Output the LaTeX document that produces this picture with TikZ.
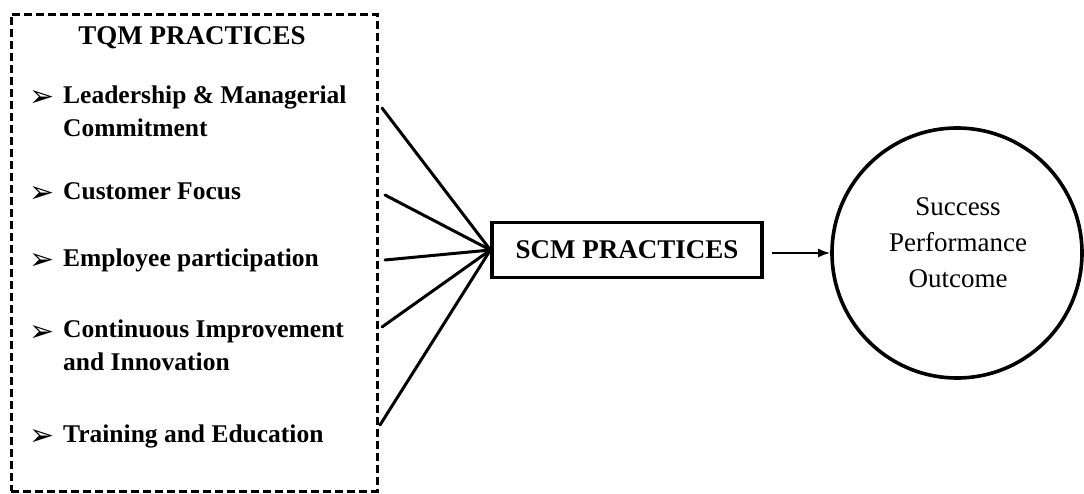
\documentclass[tikz,border=0pt]{standalone}
\usepackage{fontspec}
\setmainfont{Liberation Serif}
\newfontfamily\symfont{DejaVu Sans}
\usetikzlibrary{arrows.meta}
\begin{document}
\begin{tikzpicture}[x=1pt,y=-1pt,
  item/.style={anchor=base west, font=\fontsize{25.5}{33}\selectfont\bfseries, inner sep=0pt, align=left},
  bul/.style={anchor=base west, font=\symfont\fontsize{30}{30}\selectfont, inner sep=0pt},
  link/.style={line width=3pt, line cap=round},
  heavy/.style={line width=3.2pt},
]
\useasboundingbox (0,0) rectangle (1084,494);

% dashed frame around the TQM list
\node[draw, line width=2.8pt, dash pattern=on 8pt off 4pt, minimum width=366pt, minimum height=477pt, inner sep=0pt, anchor=north west] (tqm) at (10,13) {};
\node[anchor=base, font=\fontsize{27}{30}\selectfont\bfseries, inner sep=0pt] (title) at (192,45) {TQM PRACTICES};

% bullet list (multi-line items are placed by their last baseline)
\node[bul] (b1) at (29,107) {➢};
\node[item] (t1) at (63,137) {Leadership \& Managerial\\Commitment};
\node[bul] (b2) at (29,203) {➢};
\node[item] (t2) at (63,200) {Customer Focus};
\node[bul] (b3) at (29,270) {➢};
\node[item] (t3) at (63,267) {Employee participation};
\node[bul] (b4) at (29,341) {➢};
\node[item] (t4) at (63,370) {Continuous Improvement\\and Innovation};
\node[bul] (b5) at (29,445) {➢};
\node[item] (t5) at (63,442) {Training and Education};

% middle box and outcome circle
\node[draw, heavy, minimum width=270pt, minimum height=55pt, inner sep=0pt, font=\fontsize{27}{30}\selectfont\bfseries] (scm) at (627,250) {SCM PRACTICES};
\node[draw, circle, line width=3.6pt, minimum size=250pt, inner sep=0pt] (out) at (957,253) {};
\node[align=center, font=\fontsize{27}{36}\selectfont, inner sep=0pt] (outtext) at (958,243) {Success\\Performance\\Outcome};

% connector start points beside the frame
\coordinate (s1) at (382,108);
\coordinate (s2) at (385,195);
\coordinate (s3) at (385,260);
\coordinate (s4) at (382,327);
\coordinate (s5) at (380,425);

\foreach \s in {s1,s2,s3,s4,s5}
  \draw[link] (\s) -- (scm.west);

\draw[line width=2pt, -{Latex[length=12pt,width=9pt]}] ([xshift=8pt]scm.east |- out.west) -- (out.west);
\end{tikzpicture}
\end{document}
